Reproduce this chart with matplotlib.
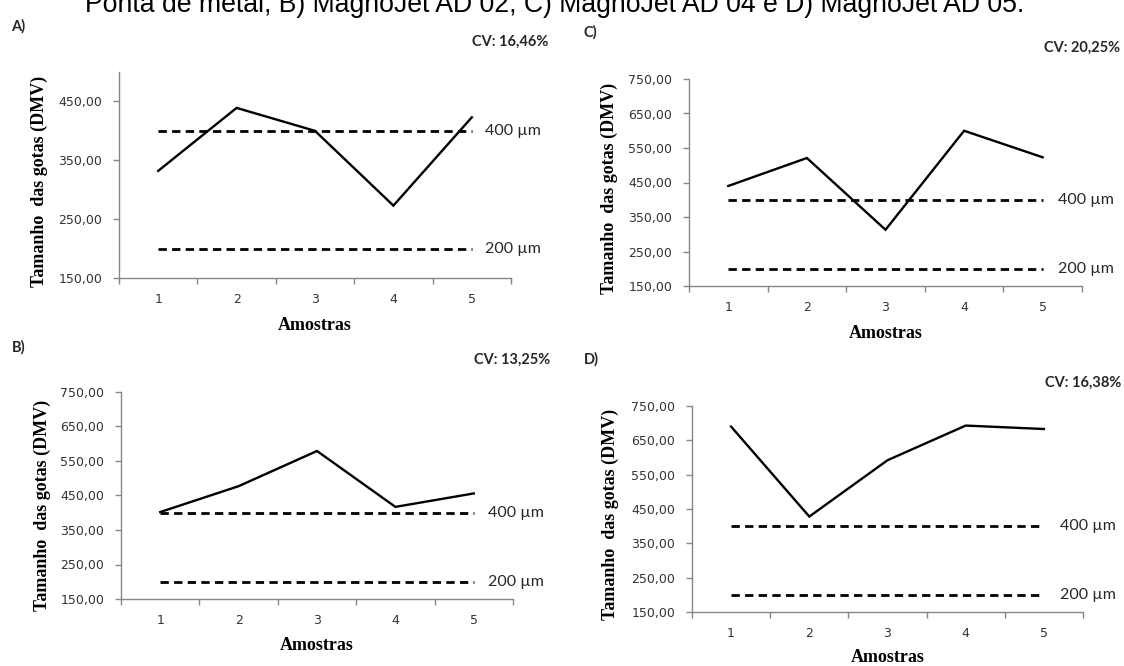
import matplotlib
matplotlib.use("Agg")
import matplotlib.pyplot as plt
from matplotlib.ticker import FixedLocator, FuncFormatter

# ---------------- data ----------------
amostras = [1, 2, 3, 4, 5]
valores_A = [332, 439, 400, 273, 423]
valores_B = [402, 477, 579, 417, 456]
valores_C = [440, 521, 313, 600, 523]
valores_D = [690, 428, 592, 693, 683]
limite_sup = 400
limite_inf = 200
cv_labels = ["CV: 16,46%", "CV: 13,25%", "CV: 20,25%", "CV: 16,38%"]
panel_letters = ["A)", "B)", "C)", "D)"]
yticks_A = [150, 250, 350, 450]
yticks_other = [150, 250, 350, 450, 550, 650, 750]
title_text = "Ponta de metal, B) MagnoJet AD 02, C) MagnoJet AD 04 e D) MagnoJet AD 05."
ylabel_text = "Tamanho  das gotas (DMV)"
xlabel_text = "Amostras"

W, H = 1124, 666
fig = plt.figure(figsize=(W / 100, H / 100), dpi=100)
fig.patch.set_facecolor("white")

def fx(px):
    return px / W

def fy(py):
    return 1 - py / H

def rect(l, r, t, b):
    return [fx(l), fy(b), fx(r) - fx(l), fy(t) - fy(b)]

GRAY = "#868686"
TICKC = "#333333"
CAL = ["Lato", "DejaVu Sans"]

panels = [
    dict(v=valores_A, top=500, yt=yticks_A, r=(119, 511, 72, 278), let=(11, 26), cv=(548, 42),
         yl=(39, 181), xl=(315, 326), rx=485, letter=panel_letters[0], cvt=cv_labels[0]),
    dict(v=valores_B, top=750, yt=yticks_other, r=(121, 513, 392, 599), let=(12, 347), cv=(550, 360),
         yl=(42, 505), xl=(317, 645), rx=488, letter=panel_letters[1], cvt=cv_labels[1]),
    dict(v=valores_C, top=750, yt=yticks_other, r=(689, 1082, 79, 286), let=(583, 32), cv=(1120, 48),
         yl=(609, 188), xl=(886, 333), rx=1058, letter=panel_letters[2], cvt=cv_labels[2]),
    dict(v=valores_D, top=750, yt=yticks_other, r=(692, 1083, 406, 612), let=(584, 359), cv=(1121, 383),
         yl=(610, 514), xl=(888, 657), rx=1060, letter=panel_letters[3], cvt=cv_labels[3]),
]

for p in panels:
    ax = fig.add_axes(rect(*p["r"]))
    ax.set_facecolor("none")
    ax.plot(amostras, p["v"], color="black", lw=1.7, solid_joinstyle="miter", clip_on=False)
    for lim in (limite_sup, limite_inf):
        ax.plot([amostras[0], amostras[-1]], [lim, lim], color="black", lw=2.0,
                dashes=(3.0, 1.9), dash_capstyle="butt")
    ax.set_xlim(0.5, 5.5)
    ax.set_ylim(150, p["top"])
    for s in ("top", "right"):
        ax.spines[s].set_visible(False)
    for s in ("left", "bottom"):
        ax.spines[s].set_color(GRAY)
        ax.spines[s].set_linewidth(1.0)
    ax.xaxis.set_major_locator(FixedLocator(amostras))
    ax.xaxis.set_minor_locator(FixedLocator([0.5, 1.5, 2.5, 3.5, 4.5, 5.5]))
    ax.tick_params(axis="x", which="major", length=0, pad=11, labelsize=9, labelcolor=TICKC)
    ax.tick_params(axis="x", which="minor", length=4, width=1.0, color=GRAY, direction="out")
    ax.yaxis.set_major_locator(FixedLocator(p["yt"]))
    ax.yaxis.set_major_formatter(FuncFormatter(lambda v, pos: f"{v:.2f}".replace(".", ",")))
    ax.tick_params(axis="y", which="major", length=4, width=1.0, color=GRAY, pad=8,
                   labelsize=9, labelcolor=TICKC, direction="out")
    for lab in ax.get_xticklabels() + ax.get_yticklabels():
        lab.set_family("DejaVu Sans")
    # reference line labels, placed at the data y of each limit
    for lim in (limite_sup, limite_inf):
        disp_y = ax.transData.transform((1, lim))[1]
        fig.text(fx(p["rx"]), disp_y / fig.bbox.height, f"{lim} µm", family=CAL,
                 fontsize=11.5, color="#262626", va="center", ha="left")
    fig.text(fx(p["let"][0]), fy(p["let"][1]), p["letter"], family=CAL, fontweight="bold",
             fontsize=10.5, color="#262626", va="center", ha="left")
    fig.text(fx(p["cv"][0]), fy(p["cv"][1]), p["cvt"], family=CAL, fontweight="bold",
             fontsize=10.5, color="#262626", va="center", ha="right")
    fig.text(fx(p["yl"][0]), fy(p["yl"][1]), ylabel_text, family="Liberation Serif",
             fontweight="bold", fontsize=13, rotation=90, va="center", ha="center", color="black")
    fig.text(fx(p["xl"][0]), fy(p["xl"][1]), xlabel_text, family="Liberation Serif",
             fontweight="bold", fontsize=13, va="center", ha="center", color="black")

fig.text(fx(85), fy(12), title_text, family="Liberation Sans", fontsize=19.2,
         va="baseline", ha="left", color="black")

fig.savefig("out.png", dpi=100, facecolor="white")
